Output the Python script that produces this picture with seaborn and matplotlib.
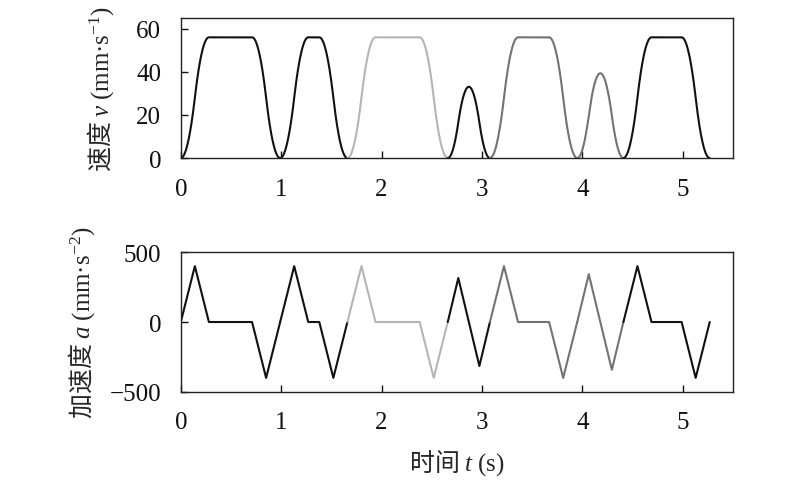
import numpy as np
import pandas as pd
import matplotlib
matplotlib.use("Agg")
import matplotlib.pyplot as plt
import seaborn as sns

# acceleration breakpoints (s, mm/s^2), one list per move
seg_times = [
    [0.00, 0.14, 0.28, 0.71, 0.85, 0.99],
    [0.99, 1.13, 1.27, 1.38, 1.52, 1.66],
    [1.66, 1.80, 1.94, 2.38, 2.52, 2.66],
    [2.66, 2.765, 2.87, 2.975, 3.08],
    [3.08, 3.22, 3.36, 3.67, 3.81, 3.95],
    [3.95, 4.065, 4.18, 4.295, 4.41],
    [4.41, 4.55, 4.69, 4.99, 5.13, 5.27],
]
seg_acc = [
    [0, 400, 0, 0, -400, 0],
    [0, 400, 0, 0, -400, 0],
    [0, 400, 0, 0, -400, 0],
    [0, 315, 0, -315, 0],
    [0, 400, 0, 0, -400, 0],
    [0, 342, 0, -342, 0],
    [0, 400, 0, 0, -400, 0],
]
seg_shade = ["dark", "dark", "light", "dark", "mid", "mid", "dark"]
shade_colors = {"dark": "#111111", "light": "#b5b5b5", "mid": "#737373"}

v_ticks = [0, 20, 40, 60]
a_ticks = [-500, 0, 500]
t_ticks = [0, 1, 2, 3, 4, 5]

# long tables for seaborn
acc_rows = []
vel_rows = []
for i, (tt, aa) in enumerate(zip(seg_times, seg_acc)):
    for t, a in zip(tt, aa):
        acc_rows.append({"t": t, "a": a, "seg": i})
    # velocity = running integral of the piecewise-linear acceleration
    fine_t = np.linspace(tt[0], tt[-1], 400)
    fine_a = np.interp(fine_t, tt, aa)
    fine_v = np.concatenate([[0.0], np.cumsum(0.5 * (fine_a[1:] + fine_a[:-1]) * np.diff(fine_t))])
    for t, v in zip(fine_t, fine_v):
        vel_rows.append({"t": t, "v": v, "seg": i})
acc_df = pd.DataFrame(acc_rows)
vel_df = pd.DataFrame(vel_rows)
palette = {i: shade_colors[s] for i, s in enumerate(seg_shade)}

sns.set_style("ticks")
plt.rcParams["font.family"] = ["Liberation Serif", "Noto Sans CJK SC"]
plt.rcParams["mathtext.fontset"] = "custom"
plt.rcParams["mathtext.rm"] = "Liberation Serif"
plt.rcParams["mathtext.it"] = "Liberation Serif:italic"
plt.rcParams["axes.unicode_minus"] = True

fig = plt.figure(figsize=(8, 4.85), dpi=100)
ax1 = fig.add_axes([0.226, 0.672, 0.690, 0.289])
ax2 = fig.add_axes([0.226, 0.190, 0.690, 0.288])

sns.lineplot(data=vel_df, x="t", y="v", hue="seg", palette=palette, estimator=None,
             sort=False, legend=False, linewidth=1.5, ax=ax1)
sns.lineplot(data=acc_df, x="t", y="a", hue="seg", palette=palette, estimator=None,
             sort=False, legend=False, linewidth=1.5, ax=ax2)

label_font = {"family": "Noto Sans CJK SC", "size": 18}
ax1.set_ylabel(r"速度 $v$ $\mathrm{(mm·s^{-1})}$", fontdict=label_font, labelpad=15)
ax2.set_ylabel(r"加速度 $a$ $\mathrm{(mm·s^{-2})}$", fontdict=label_font, labelpad=9)
ax1.set_xlabel("")
ax2.set_xlabel(r"时间 $t$ $\mathrm{(s)}$", fontdict=label_font, labelpad=10)

ax1.set_xlim(0, 5.5)
ax2.set_xlim(0, 5.5)
ax1.set_ylim(0, 65)
ax2.set_ylim(-500, 500)
ax1.set_yticks(v_ticks)
ax2.set_yticks(a_ticks)
for ax in (ax1, ax2):
    ax.set_xticks(t_ticks)
    ax.tick_params(direction="in", length=5, width=1, labelsize=18, pad=14,
                   top=False, right=False, colors="#111111")
    for sp in ax.spines.values():
        sp.set_linewidth(1.0)
        sp.set_color("#222222")

fig.savefig("out.png", dpi=100)
